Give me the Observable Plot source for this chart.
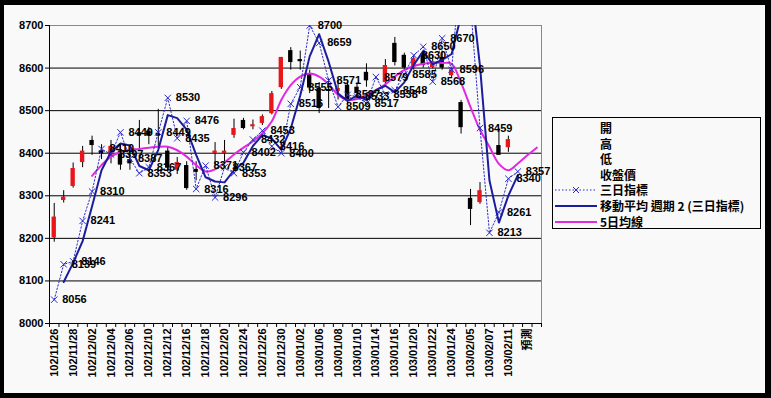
<!DOCTYPE html>
<html>
<head>
<meta charset="utf-8">
<script src="https://cdn.jsdelivr.net/npm/d3@7"></script>
<script src="https://cdn.jsdelivr.net/npm/@observablehq/plot@0.6"></script>
<style>
  body { margin: 0; background: #000; }
  #wrap { position: relative; width: 771px; height: 398px; background: #000; overflow: hidden; }
  #inner { position: absolute; left: 4px; top: 5px; width: 761px; height: 388px; background: #f9f9f9; }
  #chart { position: absolute; left: 0; top: 0; }
  #legend { position: absolute; left: 552px; top: 117px; width: 207px; height: 110px; border: 1px solid #000;
            background: #f9f9f9; font: bold 12px "Noto Sans CJK TC", "Liberation Sans", sans-serif; color: #000; }
  .row { position: absolute; left: 0; height: 16px; width: 207px; }
  .row svg { position: absolute; left: 2px; top: 0; }
  .row span { position: absolute; left: 47px; top: 0; line-height: 16px; white-space: nowrap; }
</style>
</head>
<body>
<div id="wrap">
  <div id="inner"></div>
  <div id="chart"></div>
  <div id="legend"></div>
</div>
<script>
// ---- categories (trading days) ----
const xTickLabels = ["102/11/26","102/11/28","102/12/02","102/12/04","102/12/06","102/12/10","102/12/12",
  "102/12/16","102/12/18","102/12/20","102/12/24","102/12/26","102/12/30","103/01/02","103/01/06",
  "103/01/08","103/01/10","103/01/14","103/01/16","103/01/20","103/01/22","103/01/24","103/02/05",
  "103/02/07","103/02/11","預測"];
const nCategories = 52;
const yTicks = [8000, 8100, 8200, 8300, 8400, 8500, 8600, 8700];

// ---- candlestick (開 高 低 收盤價), index 0..48 ----
const opens  = [8201,8289,8322,8378,8430,8406,8392,8405,8385,8448,8452,8447,8405,8360,8371,8362,null,8399,8399,8442,
                8477,8462,8470,8493,8554,8641,8620,8585,8553,8550,8545,8560,8555,8590,null,8566,8658,8630,8601,8634,
                8601,8625,8582,8519,8294,8284,null,8418,8413];
const highs  = [8282,8312,8377,8416,8440,8420,8430,8420,8410,8477,8460,8503,8415,8390,8380,8380,null,8425,8430,8480,
                8482,8478,8490,8545,8625,8648,8640,8595,8566,8575,8572,8568,8565,8610,null,8620,8672,8635,8630,8640,
                8630,8640,8600,8524,8315,8331,null,8458,8440];
const lows   = [8191,8283,8318,8366,8395,8385,8375,8360,8360,8410,8420,8415,8355,8350,8313,8335,null,8371,8380,8435,
                8455,8455,8465,8490,8550,8595,8595,8540,8493,8505,8525,8515,8525,8555,null,8560,8605,8595,8595,8600,
                8598,8595,8578,8445,8230,8280,null,8395,8402];
const closes = [8250,8297,8364,8405,8418,8398,8416,8372,8375,8440,8440,8440,8365,8378,8317,8355,null,8405,8405,8458,
                8458,8467,8486,8540,8625,8613,8615,8553,8505,8545,8552,8525,8540,8570,null,8606,8613,8600,8622,8606,
                8615,8600,8596,8460,8268,8312,null,8395,8432];

// ---- 三日指標, index 0..49 ----
const triIndex = [8056,8139,8146,8241,8310,8410,8397,8449,8387,8353,8367,8449,8530,8435,8476,8316,8371,8296,8367,8353,
                  8402,8432,8453,8416,8400,8516,8555,8700,8659,8571,8509,8537,8533,8517,8579,8538,8548,8585,8630,8650,
                  8568,8670,8596,8850,8750,8459,8213,8261,8340,8357];

// ---- 5日均線, index 4..51 ----
const ma5Start = 4;
const ma5 = [8347,8372,8392,8403,8408,8410,8413,8415,8415,8407,8392,8372,8357,8362,8378,8397,8413,8428,8447,8475,
             8525,8560,8580,8587,8580,8562,8537,8525,8527,8537,8548,8562,8580,8595,8605,8610,8613,8612,8610,8565,
             8508,8455,8415,8375,8360,8376,8395,8413];

// ---- build tables ----
const candles = opens.map((o, i) => ({i, o, h: highs[i], l: lows[i], c: closes[i]})).filter(d => d.o != null);
const tri = triIndex.map((v, i) => ({i, v}));
const avg5 = ma5.map((v, k) => ({i: k + ma5Start, v}));
const cx = d => d.i + 0.5;

const blueDot = "#2a2acb", navy = "#1c1c9e", magenta = "#e029e0", red = "#e8161b";

const chart = Plot.plot({
  width: 771, height: 398,
  marginLeft: 49, marginRight: 230, marginTop: 25, marginBottom: 75,
  style: {background: "transparent", fontFamily: "'Liberation Sans', 'Noto Sans CJK TC', sans-serif", fontSize: "11px", fontWeight: "bold", color: "#000"},
  x: {domain: [0, nCategories], axis: null},
  y: {domain: [8000, 8700], axis: null},
  marks: [
    Plot.gridY(yTicks.filter(t => t > 8000 && t < 8700), {stroke: "#000", strokeOpacity: 1}),
    Plot.ruleY([8700], {stroke: "#888"}),
    Plot.ruleX([nCategories], {stroke: "#888"}),
    Plot.ruleX([0], {stroke: "#000"}),
    Plot.ruleY([8000], {stroke: "#000"}),
    Plot.axisY({ticks: yTicks, tickFormat: d => String(d), tickSize: 4, tickPadding: 2, label: null, fontWeight: "bold", fontSize: 11}),
    Plot.axisX({ticks: d3.range(0, nCategories + 1), tickFormat: () => "", tickSize: 4, label: null}),
    Plot.axisX({ticks: xTickLabels.map((_, k) => 2 * k + 0.5), tickFormat: d => xTickLabels[(d - 0.5) / 2],
                tickSize: 0, tickPadding: 5, tickRotate: -90, label: null, fontWeight: "bold", fontSize: 11}),
    // candlesticks
    Plot.ruleX(candles, {x: cx, y1: "l", y2: "h", stroke: "#000", strokeWidth: 1}),
    Plot.rect(candles, {x1: d => d.i + 0.27, x2: d => d.i + 0.73, y1: "o", y2: "c",
                        fill: d => d.c >= d.o ? red : "#000"}),
    // 5日均線
    Plot.line(avg5, {x: cx, y: "v", stroke: magenta, strokeWidth: 2, curve: "catmull-rom", clip: true}),
    // 三日指標
    Plot.line(tri, {x: cx, y: "v", stroke: blueDot, strokeWidth: 1, strokeDasharray: "1.5,2", clip: true}),
    Plot.dot(tri, {x: cx, y: "v", symbol: "times", r: 3, stroke: blueDot, strokeWidth: 1, clip: true}),
    // 移動平均 週期 2
    Plot.line(tri, Plot.windowY({k: 2, anchor: "end", reduce: "mean", strict: true},
              {x: cx, y: "v", stroke: navy, strokeWidth: 2, clip: true})),
    // data labels
    Plot.text(tri.filter(d => d.v <= 8700), {x: cx, y: "v", text: d => String(d.v), dx: 8, textAnchor: "start",
              fill: "#000", fontWeight: "bold", fontSize: 11})
  ]
});
document.getElementById("chart").appendChild(chart);

// ---- legend ----
const legendItems = [
  {label: "開", kind: null},
  {label: "高", kind: null},
  {label: "低", kind: null},
  {label: "收盤價", kind: null},
  {label: "三日指標", kind: "dotted"},
  {label: "移動平均 週期 2 (三日指標)", kind: "navy"},
  {label: "5日均線", kind: "magenta"}
];
const legend = document.getElementById("legend");
legendItems.forEach((it, k) => {
  const row = document.createElement("div");
  row.className = "row";
  row.style.top = (2 + k * 15.6) + "px";
  let sample = "";
  if (it.kind === "dotted") {
    sample = `<svg width="42" height="16"><line x1="0" y1="8" x2="42" y2="8" stroke="${blueDot}" stroke-dasharray="1.5,2"/>
      <path d="M18,5L24,11M24,5L18,11" stroke="${blueDot}" stroke-width="1"/></svg>`;
  } else if (it.kind === "navy") {
    sample = `<svg width="42" height="16"><line x1="0" y1="8" x2="42" y2="8" stroke="${navy}" stroke-width="2"/></svg>`;
  } else if (it.kind === "magenta") {
    sample = `<svg width="42" height="16"><line x1="0" y1="8" x2="42" y2="8" stroke="${magenta}" stroke-width="2"/></svg>`;
  }
  row.innerHTML = sample + `<span>${it.label}</span>`;
  legend.appendChild(row);
});
</script>
</body>
</html>
